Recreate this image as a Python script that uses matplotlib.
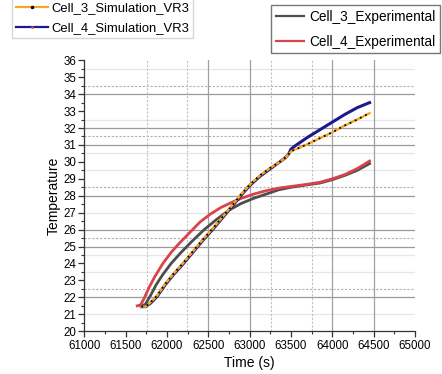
import matplotlib
matplotlib.use("Agg")
import matplotlib.pyplot as plt
from matplotlib.lines import Line2D
from matplotlib.ticker import MultipleLocator

plt.rcParams['font.family'] = ['Liberation Sans', 'DejaVu Sans']

t_exp3 = [61700, 61740, 61800, 61870, 61950, 62050, 62170, 62300, 62450, 62600, 62750, 62900,
          63050, 63200, 63350, 63500, 63700, 63850, 64000, 64150, 64300, 64450]
y_exp3 = [21.5, 21.6, 22.1, 22.75, 23.35, 24.0, 24.65, 25.3, 26.0, 26.6, 27.15, 27.55,
          27.85, 28.1, 28.35, 28.5, 28.65, 28.75, 28.95, 29.2, 29.5, 29.9]

t_exp4 = [61640, 61680, 61720, 61780, 61850, 61950, 62050, 62150, 62270, 62400, 62520, 62650,
          62780, 62900, 63050, 63200, 63350, 63500, 63700, 63850, 64000, 64150, 64300, 64450]
y_exp4 = [21.5, 21.55, 21.9, 22.55, 23.2, 24.0, 24.65, 25.2, 25.8, 26.45, 26.9, 27.3,
          27.6, 27.85, 28.1, 28.3, 28.45, 28.55, 28.68, 28.8, 29.0, 29.25, 29.6, 30.05]

# simulation data
t_sim3 = [61690, 61740, 61800, 61880, 61980, 62080, 62200, 62320, 62440, 62560, 62680, 62800,
          62900, 63000, 63125, 63250, 63350, 63420, 63470, 63510, 63560, 63700, 63850, 64000,
          64150, 64300, 64450]
y_sim3 = [21.45, 21.45, 21.7, 22.1, 22.8, 23.4, 24.05, 24.75, 25.45, 26.1, 26.8, 27.5,
          28.1, 28.65, 29.2, 29.65, 29.95, 30.2, 30.45, 30.65, 30.75, 31.05, 31.4, 31.75,
          32.15, 32.5, 32.88]

t_sim4 = [61690, 61740, 61800, 61880, 61980, 62080, 62200, 62320, 62440, 62560, 62680, 62800,
          62900, 63000, 63125, 63250, 63350, 63420, 63470, 63500, 63550, 63700, 63850, 64000,
          64150, 64300, 64450]
y_sim4 = [21.45, 21.45, 21.65, 22.05, 22.75, 23.35, 24.0, 24.7, 25.4, 26.05, 26.75, 27.45,
          28.05, 28.6, 29.15, 29.6, 29.95, 30.2, 30.45, 30.75, 30.95, 31.45, 31.9, 32.35,
          32.8, 33.2, 33.5]

fig = plt.figure(figsize=(4.42, 3.74), dpi=100)
ax = fig.add_axes([0.1907, 0.1144, 0.7483, 0.7244])

# overlaid grids (two charts on top of each other)
for y in [34, 32, 31, 28, 26, 25, 22]:
    ax.axhline(y, color='#9a9a9a', lw=0.9, zorder=0)
for y in [34.5, 31.5, 28.5, 25.5, 22.5]:
    ax.axhline(y, color='#b0b0b0', lw=0.8, ls=(0, (2, 1.5)), zorder=0)
for y in [35.5, 32.5, 30.5, 29.5, 27, 24.5, 23.5, 21]:
    ax.axhline(y, color='#e6e6e6', lw=0.9, zorder=0)
for x in [62500, 63000, 64000, 64500]:
    ax.axvline(x, color='#a0a0a0', lw=0.9, zorder=0)
for x in [61755, 62246, 63255, 63751]:
    ax.axvline(x, color='#c0c0c0', lw=0.8, ls=(0, (2, 1.5)), zorder=0)

ax.plot(t_exp3, y_exp3, color='#4d4d4d', lw=2.0, zorder=3)
ax.plot(t_exp4, y_exp4, color='#d9434a', lw=2.0, zorder=4)
ax.plot(t_sim4, y_sim4, color='#1c1a8c', lw=2.2, zorder=5)
ax.plot(t_sim3, y_sim3, color='#f5a623', lw=1.7, zorder=6)
ax.plot(t_sim3, y_sim3, color='black', lw=1.3, ls=(0, (1, 2.2)), zorder=7)

ax.set_xlim(61000, 65000)
ax.set_ylim(20, 36)
ax.xaxis.set_major_locator(MultipleLocator(500))
ax.xaxis.set_minor_locator(MultipleLocator(250))
ax.yaxis.set_major_locator(MultipleLocator(1))
ax.yaxis.set_minor_locator(MultipleLocator(0.5))
ax.tick_params(which='major', length=4, width=0.9, labelsize=8.3, pad=2, color='#333333')
ax.tick_params(which='minor', length=2, width=0.8, color='#333333')
for s in ['top', 'right']:
    ax.spines[s].set_visible(False)
for s in ['left', 'bottom']:
    ax.spines[s].set_color('#333333')
    ax.spines[s].set_linewidth(0.9)

ax.set_xlabel('Time (s)', fontsize=10, labelpad=3)
ax.set_ylabel('Temperature', fontsize=10, labelpad=2)

h_sim = [Line2D([], [], color='#f5a623', lw=1.6, marker='.', mfc='black', mec='black', ms=3),
         Line2D([], [], color='#1c1a8c', lw=1.6, marker='.', mfc='#d9434a', mec='#d9434a', ms=2)]
leg1 = fig.legend(h_sim, ['Cell_3_Simulation_VR3', 'Cell_4_Simulation_VR3'],
                  loc='upper left', bbox_to_anchor=(0.027, 1.005), fontsize=9.4,
                  frameon=True, fancybox=False, edgecolor='#cccccc', handlelength=2.5,
                  handletextpad=0.2, borderpad=0.3, labelspacing=0.6, borderaxespad=0)
h_exp = [Line2D([], [], color='#4d4d4d', lw=1.6),
         Line2D([], [], color='#d9434a', lw=1.6)]
leg2 = fig.legend(h_exp, ['Cell_3_Experimental', 'Cell_4_Experimental'],
                  loc='upper right', bbox_to_anchor=(0.996, 0.987), fontsize=9.8,
                  frameon=True, fancybox=False, edgecolor='#555555', handlelength=2.1,
                  handletextpad=0.35, borderpad=0.35, labelspacing=0.8, borderaxespad=0)

fig.savefig('out.png', dpi=100)
